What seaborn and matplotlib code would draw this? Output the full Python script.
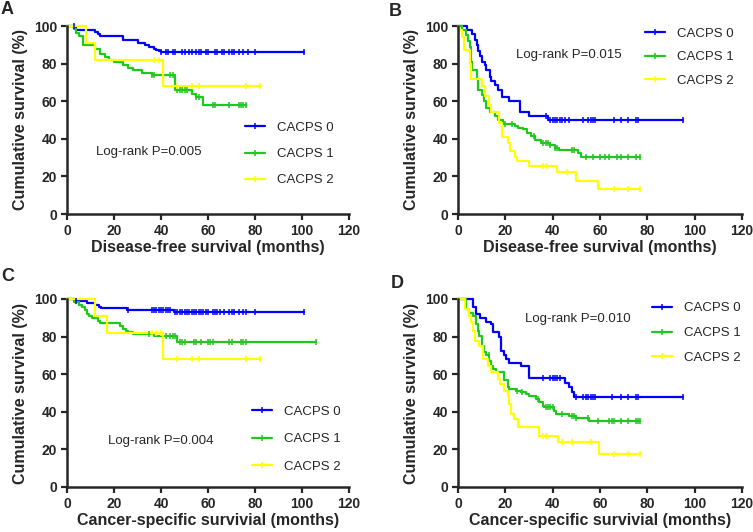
import numpy as np
import matplotlib
matplotlib.use("Agg")
import matplotlib.pyplot as plt
import seaborn as sns
from matplotlib.lines import Line2D

# --- Kaplan-Meier step data (time in months, survival in %) ---
# Panel A: disease-free survival
a0_t = [0, 4, 12, 13, 14, 24, 30, 33, 35, 37, 38, 39, 40]
a0_s = [100, 98, 97, 96, 94.5, 92.5, 91, 90, 89, 88, 87.5, 86.5, 86]
a0_c = [3, 40, 42, 43, 45, 46, 49, 50, 52, 53, 55, 56, 57, 59, 60, 63, 64, 66, 67, 69, 70, 71, 73, 75, 77, 80, 101]
a1_t = [0, 3, 4, 5, 7, 12, 14, 16, 18, 20, 24, 26, 28, 32, 36, 46, 53, 55, 58]
a1_s = [100, 98.5, 96.5, 94.5, 90, 88, 85, 83.5, 82, 81, 79, 77.5, 76.5, 75, 74, 66, 64, 62, 58]
a1_c = [36, 37, 44, 45, 47, 48, 49, 50, 51, 55, 56, 62, 63, 69, 73, 74, 75, 76]
a2_t = [0, 8, 12, 41]
a2_s = [100, 91, 82, 68]
a2_c = [37, 39, 47, 53, 56, 76, 82]

# Panel B: disease-free survival
b0_t = [0, 4, 6, 7, 8, 8.5, 9.5, 10, 11.5, 12, 13.5, 14, 15.5, 17, 18.5, 21.5, 26, 30, 38]
b0_s = [100, 98, 96, 92.5, 90, 86.5, 84, 81, 79, 76.5, 73, 71, 68.5, 66, 62, 60, 54, 52, 50]
b0_c = [37, 39, 40, 41, 42, 43, 44, 45, 47, 53, 55, 56, 57, 58, 66, 69, 72, 75, 76, 95]
b1_t = [0, 1.5, 3.5, 4.4, 5, 5.5, 6, 8, 8.6, 10, 11, 12, 13.5, 15.5, 17, 19, 24, 25.5, 27.5, 29, 31, 32.5, 35, 39, 41, 42.5, 50.5, 52]
b1_s = [100, 98, 95, 92, 89, 81, 76.5, 72, 66, 63.5, 60, 56.5, 54, 52, 50, 48, 47, 46, 45, 43, 41.5, 39.5, 38, 36.5, 35, 34, 32.5, 30.5]
b1_c = [20, 23, 32, 36, 37, 38, 39, 41, 42, 48, 49, 54, 57, 60, 62, 64, 67, 69, 72, 75, 77]
b2_t = [0, 0.5, 1.5, 2.5, 5, 5.5, 10.3, 11.5, 13, 14, 17.5, 18.5, 21, 22, 24, 25, 30, 42, 50, 59]
b2_s = [100, 98, 94, 87.5, 80, 72, 68, 63, 58, 54, 48.5, 41, 38, 33.5, 30.5, 28, 25.5, 22.5, 17.7, 13.5]
b2_c = [36, 37, 46, 66, 72, 77]

# Panel C: cancer-specific survival
c0_t = [0, 3.5, 8.5, 12, 13.5, 14.3, 25.5, 45.5]
c0_s = [100, 99, 98, 97, 95.7, 95.2, 94.3, 93.3]
c0_c = [4, 26, 36, 37, 38, 39, 40, 41, 42, 43, 44, 46, 47, 48, 49, 50, 51, 52, 53, 54, 55, 56,
        57, 58, 59, 60, 62, 63, 64, 65, 67, 69, 70, 71, 73, 75, 76, 80, 101]
c1_t = [0, 2.8, 4.9, 6.4, 7.5, 8.5, 9.2, 10.6, 13, 14, 22.5, 24, 25, 26, 28, 37, 47]
c1_s = [100, 98.5, 97, 95.7, 94, 92.2, 91, 90, 88.5, 87.2, 85.8, 84, 83, 82.3, 81.4, 80.1, 77]
c1_c = [35, 42, 44, 45, 46, 48, 49, 50, 54, 55, 57, 60, 61, 62, 69, 70, 74, 75, 76, 106]
c2_t = [0, 12, 17, 41]
c2_s = [100, 91, 82, 68]
c2_c = [36, 38, 40, 47, 53, 56, 76, 82]

# Panel D: cancer-specific survival
d0_t = [0, 6.2, 7.6, 9.3, 11.8, 13.9, 14.6, 17.5, 18.2, 19.6, 20.3, 21.7, 26.6, 30, 45, 47, 48.2, 49.2]
d0_s = [100, 96, 92, 90, 88, 86.5, 82.3, 80, 72.2, 70.2, 68, 66, 64.2, 58.2, 55.3, 53, 50.5, 48]
d0_c = [36, 39, 40, 41, 42, 43, 50, 53, 54, 55, 56, 57, 58, 65, 69, 72, 75, 76, 95]
d1_t = [0, 3.4, 4.8, 6.2, 7.6, 8.3, 9, 10.1, 10.8, 11.8, 13.2, 13.9, 14.6, 16.1, 19.6, 21, 21.7,
        24.5, 26.6, 28.7, 30, 33, 34.4, 35.8, 36.5, 40.7, 41.4, 47, 50, 55.5]
d1_s = [100, 94.7, 92.6, 91, 86.7, 83.2, 80.5, 75.2, 72, 70, 67.2, 64.5, 62.8, 61, 57, 53, 52,
        51.2, 50.4, 49.5, 48.6, 46.8, 45, 43.3, 42.4, 40.6, 38.8, 37.6, 36.5, 35.3]
d1_c = [13, 25, 27, 34, 37, 38, 39, 40, 44, 48, 49, 50, 55, 59, 64, 65, 66, 69, 72, 75, 76, 77]
d2_t = [0, 3.1, 4.8, 5.5, 6.2, 7.3, 9, 10.4, 10.7, 12.5, 13.9, 16.8, 17.7, 19.6, 21, 21.7, 22.4,
        23.8, 25.2, 34.4, 42.1, 59.4]
d2_s = [100, 94.7, 91, 87.6, 83.2, 77.8, 75.2, 70.7, 68, 64.5, 61, 57.4, 54.8, 51, 48.6, 44, 38.8,
        36.2, 31.7, 27, 23.8, 17.7]
d2_c = [36, 37, 44, 48, 56, 66, 72, 77]

groups = ["CACPS 0", "CACPS 1", "CACPS 2"]
colors = ["#0000ff", "#1ec81e", "#ffff00"]

panels = [
    ("A", [(a0_t, a0_s, a0_c), (a1_t, a1_s, a1_c), (a2_t, a2_s, a2_c)],
     "Disease-free survival (months)", "Log-rank P=0.005", (12.3, 33), (0.631, 0.319), 1.05),
    ("B", [(b0_t, b0_s, b0_c), (b1_t, b1_s, b1_c), (b2_t, b2_s, b2_c)],
     "Disease-free survival (months)", "Log-rank P=0.015", (24.5, 84.6), (0.658, 0.835), 0.85),
    ("C", [(c0_t, c0_s, c0_c), (c1_t, c1_s, c1_c), (c2_t, c2_s, c2_c)],
     "Cancer-specific survivial (months)", "Log-rank P=0.004", (17.4, 24.5), (0.656, 0.255), 1.15),
    ("D", [(d0_t, d0_s, d0_c), (d1_t, d1_s, d1_c), (d2_t, d2_s, d2_c)],
     "Cancer-specific survivial (months)", "Log-rank P=0.010", (28.3, 89.4), (0.683, 0.819), 0.95),
]

# axes boxes in pixels (left, top, right, bottom)
W, H = 753, 532
boxes = {
    "A": (67, 26, 349, 214),
    "B": (458, 26, 742, 214),
    "C": (67, 299, 349, 487),
    "D": (458, 299, 742, 487),
}
letter_pos = {"A": (1, 1), "B": (389, 3), "C": (1, 268), "D": (391, 275)}

sns.set_style("ticks")
plt.rcParams["font.family"] = ["Liberation Sans", "DejaVu Sans"]

fig = plt.figure(figsize=(W / 100, H / 100), dpi=100)


def step_value(t, s, x):
    idx = np.searchsorted(np.asarray(t), np.asarray(x), side="right") - 1
    return np.asarray(s)[idx]


for letter, curves, xlabel, ptext, ppos, legpos, lspace in panels:
    x0, y0, x1, y1 = boxes[letter]
    ax = fig.add_axes([x0 / W, 1 - y1 / H, (x1 - x0) / W, (y1 - y0) / H])

    for (t, s, c), col in zip(curves, colors):
        tt = list(t) + [max(c)]
        ss = list(s) + [s[-1]]
        sns.lineplot(x=tt, y=ss, drawstyle="steps-post", color=col, linewidth=1.6,
                     estimator=None, sort=False, ax=ax, clip_on=False)
        sns.scatterplot(x=c, y=step_value(t, s, c), marker="|", s=22, color=col,
                        linewidth=1.1, ax=ax, clip_on=False, zorder=3)

    ax.set_xlim(0, 120)
    ax.set_ylim(0, 100)
    ax.set_xticks(range(0, 121, 20))
    ax.set_yticks(range(0, 101, 20))
    sns.despine(ax=ax)
    for sp in ["left", "bottom"]:
        ax.spines[sp].set_linewidth(1.8)
    ax.tick_params(width=1.6, length=4, pad=3, labelsize=10)
    for lab in ax.get_xticklabels() + ax.get_yticklabels():
        lab.set_fontweight("bold")

    ax.set_xlabel(xlabel, fontsize=11.5, fontweight="bold")
    ax.set_ylabel("Cumulative survival (%)", fontsize=11.5, fontweight="bold")
    ax.xaxis.set_label_coords(0.5, -0.14)
    ax.yaxis.set_label_coords(-39 / (x1 - x0), 0.5)

    ax.text(ppos[0], ppos[1], ptext, fontsize=9.5, ha="left", va="center")

    handles = [Line2D([], [], color=col, linewidth=1.6, marker="|", markersize=4.5,
                      markeredgewidth=1.1) for col in colors]
    ax.legend(handles, groups, loc="center left", bbox_to_anchor=legpos, frameon=False,
              fontsize=9.5, handlelength=1.5, handletextpad=0.9, labelspacing=lspace,
              borderpad=0, borderaxespad=0, numpoints=1)

    lx, ly = letter_pos[letter]
    fig.text(lx / W, 1 - ly / H, letter, fontsize=13, fontweight="bold", ha="left", va="top")

fig.savefig("out.png", dpi=100)
